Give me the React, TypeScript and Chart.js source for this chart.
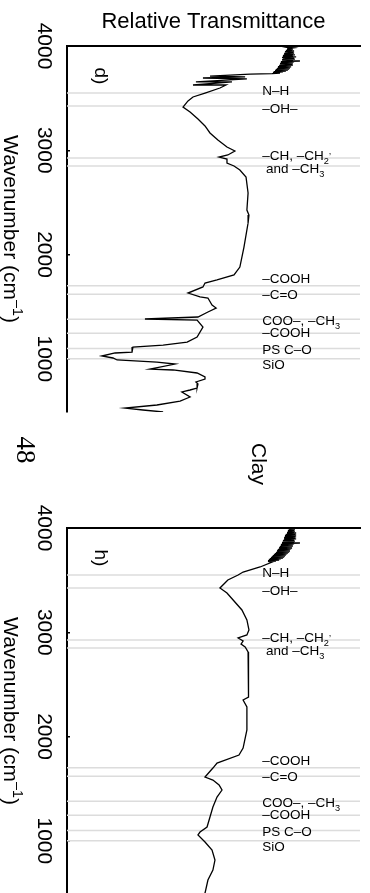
import React, { useEffect, useRef } from "react";
import { Chart, registerables } from "chart.js";

Chart.register(...registerables);

const SANS = '"Liberation Sans", Arial, Helvetica, sans-serif';
const SERIF = '"Liberation Serif", "Times New Roman", serif';

// ---- axis / labels ----
const WAVENUMBER_MIN = 490;
const WAVENUMBER_MAX = 4000;
const WAVENUMBER_TICKS = [1000, 2000, 3000, 4000];
const AXIS_TITLE = "Wavenumber (cm^{–1})";
const TOP_TITLE = "Relative Transmittance";
const PAGE_NUMBER = "48";
const CAPTION = "Clay";

// band reference lines (cm-1) and their labels
const BAND_LINES = [3550, 3425, 2925, 2850, 1700, 1620, 1380, 1245, 1100, 1000];
const BAND_LABELS = ["N–H", "–OH–", "–CH, –CH_2^,", " and –CH_3", "–COOH", "–C=O", "COO–, –CH_3", "–COOH", "PS C–O", "SiO"];
const BAND_LABEL_WN = [3530, 3357, 2907, 2782, 1727, 1574, 1324, 1209, 1046, 898];
const BAND_LABEL_X = 66.6;

// ---- panel d) spectrum ----
const D_WAVENUMBER = [4000, 3995, 3990, 3986, 3981, 3976, 3971, 3966, 3962, 3957, 3952, 3947, 3942, 3938, 3933, 3928, 3923, 3918, 3914, 3909, 3904, 3899, 3895, 3890, 3885, 3880, 3875, 3871, 3866, 3861, 3856, 3851, 3847, 3842, 3837, 3832, 3827, 3823, 3818, 3813, 3808, 3803, 3799, 3794, 3789, 3784, 3779, 3775, 3770, 3765, 3760, 3755, 3751, 3746, 3741, 3736,
  3731, 3712, 3703, 3693, 3684, 3655, 3655, 3626, 3626, 3597, 3549, 3511, 3473, 3415, 3367, 3300, 3233, 3166, 3098, 3031, 2993, 2955, 2935, 2916, 2878, 2849, 2811, 2744, 2590, 2427, 2379, 2302, 2072, 1880, 1804, 1756, 1727, 1689, 1631, 1593, 1583, 1516, 1487, 1449, 1401, 1382, 1372, 1305, 1209, 1161, 1132, 1113, 1065, 1056, 1027, 1008, 989, 969, 950, 902, 893, 864, 826, 806, 778, 758, 720, 701, 682, 634, 595, 557, 528, 509, 490];
const D_TRANSMITTANCE = [76.8, 75.8, 77.1, 75.4, 76.8, 75.1, 77.1, 75.1, 76.8, 74.7, 77.5, 74.4, 77.1, 74.4, 77.5, 74.1, 77.1, 74.1, 77.8, 73.7, 77.1, 73.7, 78.2, 73.4, 77.5, 73.7, 77.8, 73.4, 77.1, 73.4, 79.5, 73.0, 77.5, 73.0, 77.1, 72.7, 76.8, 72.7, 77.1, 72.4, 76.5, 72.0, 76.5, 72.0, 76.1, 71.7, 75.8, 71.3, 75.4, 71.0, 74.7, 70.6, 73.7, 70.3, 72.7, 70.0,
  62.5, 48.8, 60.8, 46.4, 61.4, 44.0, 56.3, 43.0, 54.3, 52.2, 47.1, 43.0, 41.3, 39.6, 42.0, 44.7, 47.1, 48.8, 51.5, 54.6, 57.3, 54.9, 51.9, 54.6, 54.6, 57.0, 59.0, 61.1, 61.8, 61.4, 62.1, 61.8, 60.4, 59.0, 57.0, 51.2, 47.1, 46.4, 41.3, 45.4, 48.1, 49.5, 50.9, 48.1, 44.7, 26.6, 44.4, 46.4, 44.4, 41.0, 32.8, 22.5, 22.2, 16.4, 11.9, 15.7, 17.1, 30.7, 36.9, 28.3, 36.2, 44.4, 47.1, 47.1, 44.0, 44.7, 44.4, 42.0, 39.2, 42.0, 38.6, 30.7, 19.8, 25.9, 32.8];

// ---- panel h) spectrum ----
const H_WAVENUMBER = [4000, 3995, 3990, 3986, 3981, 3976, 3971, 3966, 3962, 3957, 3952, 3947, 3942, 3938, 3933, 3928, 3923, 3918, 3914, 3909, 3904, 3899, 3895, 3890, 3885, 3880, 3875, 3871, 3866, 3861, 3856, 3851, 3847, 3842, 3837, 3832, 3827, 3823, 3818, 3813, 3808, 3803, 3799, 3794, 3789, 3784, 3779, 3775, 3770, 3765, 3760, 3755, 3751, 3746, 3741, 3736, 3731, 3727, 3722, 3717, 3712, 3707, 3703, 3698, 3693, 3688, 3683, 3679, 3674,
  3626, 3578, 3549, 3501, 3473, 3425, 3377, 3310, 3214, 3118, 3022, 2974, 2945, 2916, 2887, 2859, 2811, 2638, 2379, 2350, 2283, 2063, 1890, 1823, 1746, 1698, 1612, 1583, 1535, 1487, 1420, 1324, 1228, 1132, 1084, 1056, 989, 912, 816, 720, 624, 499, 490];
const H_TRANSMITTANCE = [77.1, 76.1, 77.8, 75.8, 77.5, 75.4, 77.8, 75.4, 77.5, 75.1, 78.2, 75.1, 77.8, 74.7, 78.2, 74.4, 77.8, 74.4, 78.2, 74.1, 77.8, 74.1, 78.2, 74.1, 77.5, 73.7, 77.8, 73.7, 77.5, 73.4, 79.5, 73.4, 77.5, 73.0, 77.1, 73.0, 77.1, 72.7, 76.8, 72.4, 76.8, 72.4, 76.5, 72.0, 76.1, 71.7, 76.1, 71.7, 75.8, 71.3, 75.4, 71.0, 75.1, 70.6, 74.7, 70.3, 74.4, 70.0, 74.1, 69.6, 73.7, 69.3, 73.0, 68.9, 72.4, 68.6, 71.3, 68.6, 70.0,
  65.9, 60.1, 58.4, 54.9, 53.9, 52.2, 54.6, 56.7, 59.7, 61.4, 62.1, 61.4, 58.4, 60.1, 59.4, 60.8, 61.8, 61.8, 62.1, 60.1, 61.4, 61.4, 60.1, 58.7, 51.2, 49.8, 47.1, 49.8, 51.9, 52.9, 51.2, 49.8, 48.8, 47.8, 45.4, 44.7, 47.1, 49.5, 50.5, 49.8, 48.1, 47.1, 46.8];

type Seg = { t: string; k: number };

function parseRich(s: string): Seg[] {
  const segs: Seg[] = [];
  let buf = "";
  for (let i = 0; i < s.length; i++) {
    const c = s[i];
    if ((c === "_" || c === "^") && i + 1 < s.length) {
      if (buf) segs.push({ t: buf, k: 0 });
      buf = "";
      let t = "";
      if (s[i + 1] === "{") {
        const end = s.indexOf("}", i + 2);
        t = s.slice(i + 2, end);
        i = end;
      } else {
        t = s[i + 1];
        i++;
      }
      segs.push({ t, k: c === "_" ? 1 : -1 });
    } else buf += c;
  }
  if (buf) segs.push({ t: buf, k: 0 });
  return segs;
}

function richWidth(ctx: CanvasRenderingContext2D, segs: Seg[], size: number, family: string) {
  let w = 0;
  for (const s of segs) {
    ctx.font = `${s.k ? size * 0.68 : size}px ${family}`;
    w += ctx.measureText(s.t).width;
  }
  return w;
}

function drawRich(ctx: CanvasRenderingContext2D, segs: Seg[], x: number, y: number, size: number, family: string) {
  let cx = x;
  ctx.textAlign = "left";
  ctx.textBaseline = "alphabetic";
  for (const s of segs) {
    const fs = s.k ? size * 0.68 : size;
    ctx.font = `${fs}px ${family}`;
    const dy = s.k === 1 ? size * 0.3 : s.k === -1 ? -size * 0.42 : 0;
    ctx.fillText(s.t, cx, y + dy);
    cx += ctx.measureText(s.t).width;
  }
}

type PanelProps = {
  top: number;
  height: number;
  padTop: number;
  wn: number[];
  tr: number[];
  letter: string;
  showTitle: boolean;
  showCaption: boolean;
};

function Panel(p: PanelProps) {
  const ref = useRef<HTMLCanvasElement>(null);
  useEffect(() => {
    const canvas = ref.current!;
    const textPlugin = {
      id: "ftirText",
      afterDraw(chart: any) {
        const { ctx, chartArea, scales } = chart;
        const x = scales.x;
        const y = scales.y;
        ctx.save();
        ctx.fillStyle = "#000";
        // rotated tick labels
        ctx.font = `21px ${SANS}`;
        ctx.textAlign = "center";
        ctx.textBaseline = "alphabetic";
        for (const t of y.ticks) {
          const py = y.getPixelForValue(t.value);
          ctx.save();
          ctx.translate(chartArea.left - 29, py);
          ctx.rotate(Math.PI / 2);
          ctx.fillText(String(t.value), 0, 0);
          ctx.restore();
        }
        // rotated axis title
        const tsegs = parseRich(AXIS_TITLE);
        const tw = richWidth(ctx, tsegs, 21, SANS);
        ctx.save();
        ctx.translate(chartArea.left - 63, (chartArea.top + chartArea.bottom) / 2);
        ctx.rotate(Math.PI / 2);
        drawRich(ctx, tsegs, -tw / 2, 0, 21, SANS);
        ctx.restore();
        // panel letter
        ctx.save();
        ctx.font = `19px ${SANS}`;
        ctx.textAlign = "center";
        ctx.textBaseline = "alphabetic";
        ctx.translate(chartArea.left + 28, chartArea.top + 30);
        ctx.rotate(Math.PI / 2);
        ctx.fillText(p.letter, 0, 0);
        ctx.restore();
        // band labels
        const lx = x.getPixelForValue(BAND_LABEL_X);
        BAND_LABELS.forEach((lab, i) => {
          drawRich(ctx, parseRich(lab), lx, y.getPixelForValue(BAND_LABEL_WN[i]), 13.5, SANS);
        });
        if (p.showTitle) {
          ctx.font = `22px ${SANS}`;
          ctx.textAlign = "center";
          ctx.textBaseline = "alphabetic";
          ctx.fillText(TOP_TITLE, (chartArea.left + chartArea.right) / 2, chartArea.top - 18);
        }
        if (p.showCaption) {
          ctx.save();
          ctx.font = `27px ${SERIF}`;
          ctx.textAlign = "center";
          ctx.textBaseline = "alphabetic";
          ctx.translate(17, chartArea.top - 78);
          ctx.rotate(Math.PI / 2);
          ctx.fillText(PAGE_NUMBER, 0, 0);
          ctx.restore();
          ctx.save();
          ctx.font = `21px ${SANS}`;
          ctx.textAlign = "center";
          ctx.textBaseline = "alphabetic";
          ctx.translate(252, chartArea.top - 64);
          ctx.rotate(Math.PI / 2);
          ctx.fillText(CAPTION, 0, 0);
          ctx.restore();
        }
        ctx.restore();
      },
    };

    const bandSets = BAND_LINES.map((w) => ({
      data: [{ x: 0, y: w }, { x: 100, y: w }],
      showLine: true,
      borderColor: "#dcdcdc",
      borderWidth: 1.5,
      pointRadius: 0,
      order: 1,
    }));

    const chart = new Chart(canvas, {
      type: "scatter",
      data: {
        datasets: [
          {
            data: p.wn.map((w, i) => ({ x: p.tr[i], y: w })),
            showLine: true,
            borderColor: "#000",
            borderWidth: 1.3,
            pointRadius: 0,
            tension: 0,
            order: 0,
          },
          ...bandSets,
        ],
      },
      options: {
        responsive: false,
        maintainAspectRatio: false,
        animation: false,
        devicePixelRatio: 1,
        events: [],
        layout: { padding: { top: p.padTop, left: 0, right: 10, bottom: 18 } },
        plugins: { legend: { display: false }, tooltip: { enabled: false } },
        scales: {
          x: {
            type: "linear",
            position: "top",
            min: 0,
            max: 100,
            ticks: { display: false },
            grid: { display: false },
            border: { display: true, color: "#000", width: 2 },
            afterFit: (s: any) => {
              s.height = 0;
            },
          },
          y: {
            type: "linear",
            min: WAVENUMBER_MIN,
            max: WAVENUMBER_MAX,
            afterBuildTicks: (s: any) => {
              s.ticks = WAVENUMBER_TICKS.map((v) => ({ value: v }));
            },
            ticks: { display: false },
            grid: {
              display: true,
              drawOnChartArea: false,
              drawTicks: true,
              tickLength: -3,
              color: "#000",
              lineWidth: 1.5,
            },
            border: { display: true, color: "#000", width: 2 },
            afterFit: (s: any) => {
              s.width = 67;
            },
          },
        },
      },
      plugins: [textPlugin],
    } as any);
    return () => chart.destroy();
  }, []);
  return (
    <canvas
      ref={ref}
      width={370}
      height={p.height}
      style={{ position: "absolute", left: 0, top: p.top, width: 370, height: p.height, display: "block" }}
    />
  );
}

export default function App() {
  return (
    <div style={{ position: "absolute", left: 0, top: 0, width: 370, height: 893, overflow: "hidden", background: "#fff" }}>
      <Panel top={0} height={430} padTop={46} wn={D_WAVENUMBER} tr={D_TRANSMITTANCE} letter="d)" showTitle={true} showCaption={false} />
      <Panel top={430} height={482} padTop={98} wn={H_WAVENUMBER} tr={H_TRANSMITTANCE} letter="h)" showTitle={false} showCaption={true} />
    </div>
  );
}
